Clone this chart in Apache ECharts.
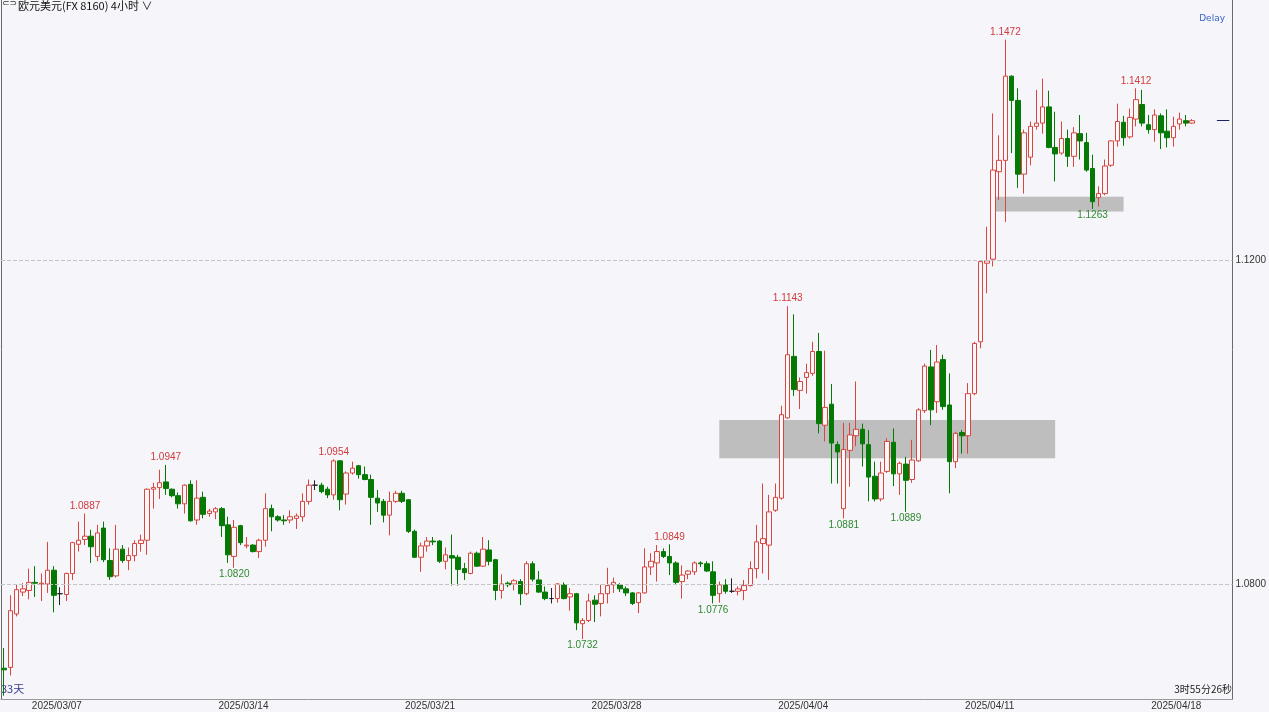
<!DOCTYPE html>
<html><head><meta charset="utf-8">
<script src="https://cdn.jsdelivr.net/npm/echarts/dist/echarts.min.js"></script>
<style>html,body{margin:0;padding:0;background:#f5f5fa;}#c{width:1269px;height:712px;}</style>
</head><body><div id="c"></div>
<script>
// EUR/USD 4h candles: open, close, low, high
const opens = [1.0696,1.0697,1.0763,1.0790,1.0792,1.0802,1.0800,1.0800,1.0817,1.0788,
1.0787,1.0813,1.0849,1.0855,1.0859,1.0834,1.0869,1.0829,1.0810,1.0843,
1.0829,1.0835,1.0850,1.0854,1.0917,1.0919,1.0926,1.0917,1.0909,1.0899,
1.0923,1.0879,1.0907,1.0887,1.0889,1.0893,1.0873,1.0834,1.0872,1.0847,
1.0848,1.0840,1.0854,1.0893,1.0883,1.0879,1.0879,1.0881,1.0883,1.0902,
1.0922,1.0922,1.0917,1.0910,1.0952,1.0911,1.0937,1.0946,1.0935,1.0929,
1.0906,1.0902,1.0885,1.0902,1.0912,1.0904,1.0865,1.0833,1.0847,1.0853,
1.0853,1.0828,1.0835,1.0833,1.0819,1.0813,1.0838,1.0822,1.0842,1.0830,
1.0792,1.0801,1.0800,1.0803,1.0788,1.0825,1.0805,1.0790,1.0782,1.0782,
1.0799,1.0784,1.0788,1.0751,1.0755,1.0780,1.0776,1.0788,1.0799,1.0799,
1.0794,1.0789,1.0777,1.0789,1.0821,1.0826,1.0840,1.0834,1.0826,1.0803,
1.0812,1.0815,1.0826,1.0825,1.0815,1.0788,1.0799,1.0791,1.0791,1.0792,
1.0798,1.0819,1.0850,1.0848,1.0891,1.0906,1.1005,1.1081,1.1039,1.1055,
1.1060,1.1087,1.0996,1.1022,1.0972,1.0893,1.0965,1.0983,1.0991,1.0972,
1.0933,1.0905,1.0939,1.0975,1.0936,1.0948,1.0929,1.0952,1.1014,1.1068,
1.1025,1.1077,1.1021,1.0951,1.0987,1.0983,1.1035,1.1099,1.1196,1.1201,
1.1309,1.1323,1.1427,1.1397,1.1306,1.1327,1.1365,1.1369,1.1389,1.1339,
1.1332,1.1350,1.1328,1.1356,1.1345,1.1313,1.1277,1.1282,1.1317,1.1347,
1.1370,1.1352,1.1374,1.1392,1.1367,1.1361,1.1378,1.1359,1.1351,1.1368,
1.1372,1.1369];
const closes = [1.0694,1.0767,1.0793,1.0794,1.0802,1.0801,1.0801,1.0817,1.0786,1.0788,
1.0813,1.0851,1.0854,1.0859,1.0846,1.0863,1.0830,1.0809,1.0843,1.0829,
1.0835,1.0850,1.0854,1.0917,1.0919,1.0925,1.0918,1.0909,1.0899,1.0922,
1.0878,1.0906,1.0886,1.0890,1.0893,1.0872,1.0836,1.0870,1.0851,1.0848,
1.0840,1.0854,1.0893,1.0883,1.0879,1.0878,1.0883,1.0884,1.0902,1.0922,
1.0922,1.0914,1.0910,1.0952,1.0904,1.0937,1.0943,1.0935,1.0929,1.0907,
1.0900,1.0885,1.0902,1.0912,1.0902,1.0865,1.0833,1.0847,1.0853,1.0852,
1.0828,1.0836,1.0832,1.0818,1.0814,1.0838,1.0822,1.0843,1.0828,1.0792,
1.0800,1.0799,1.0804,1.0788,1.0825,1.0806,1.0790,1.0782,1.0782,1.0800,
1.0782,1.0788,1.0752,1.0755,1.0779,1.0775,1.0788,1.0798,1.0802,1.0794,
1.0789,1.0776,1.0789,1.0821,1.0828,1.0840,1.0834,1.0826,1.0802,1.0811,
1.0816,1.0826,1.0825,1.0816,1.0786,1.0799,1.0791,1.0791,1.0794,1.0798,
1.0819,1.0852,1.0856,1.0889,1.0907,1.1009,1.1083,1.1040,1.1050,1.1061,
1.1087,1.0998,1.1018,1.0974,1.0963,1.0966,1.0984,1.0991,1.0973,1.0932,
1.0905,1.0937,1.0976,1.0936,1.0949,1.0928,1.0953,1.1015,1.1069,1.1015,
1.1074,1.1019,1.0951,1.0986,1.0983,1.1035,1.1097,1.1198,1.1199,1.1311,
1.1323,1.1427,1.1397,1.1306,1.1357,1.1365,1.1369,1.1389,1.1339,1.1331,
1.1350,1.1328,1.1357,1.1347,1.1311,1.1272,1.1282,1.1316,1.1347,1.1371,
1.1351,1.1376,1.1398,1.1369,1.1361,1.1379,1.1357,1.1351,1.1365,1.1374,
1.1369,1.1372];
const lows = [1.0662,1.0687,1.0760,1.0785,1.0781,1.0784,1.0779,1.0789,1.0765,1.0774,
1.0779,1.0805,1.0840,1.0848,1.0826,1.0828,1.0827,1.0805,1.0808,1.0826,
1.0817,1.0828,1.0840,1.0836,1.0893,1.0905,1.0910,1.0907,1.0893,1.0887,
1.0877,1.0873,1.0881,1.0883,1.0880,1.0858,1.0826,1.0820,1.0848,1.0844,
1.0839,1.0832,1.0846,1.0865,1.0877,1.0873,1.0875,1.0868,1.0877,1.0898,
1.0916,1.0912,1.0906,1.0904,1.0891,1.0898,1.0935,1.0930,1.0928,1.0873,
1.0889,1.0876,1.0860,1.0900,1.0900,1.0863,1.0832,1.0815,1.0840,1.0848,
1.0826,1.0818,1.0798,1.0798,1.0805,1.0812,1.0821,1.0821,1.0823,1.0780,
1.0782,1.0796,1.0792,1.0774,1.0786,1.0803,1.0789,1.0780,1.0776,1.0777,
1.0781,1.0767,1.0743,1.0732,1.0753,1.0753,1.0760,1.0776,1.0789,1.0790,
1.0785,1.0774,1.0764,1.0788,1.0811,1.0803,1.0832,1.0811,1.0799,1.0782,
1.0806,1.0811,1.0821,1.0815,1.0776,1.0777,1.0788,1.0789,1.0786,1.0780,
1.0797,1.0807,1.0813,1.0805,1.0889,1.0904,1.1004,1.1032,1.1016,1.1035,
1.1057,1.0986,1.0976,1.0924,1.0924,1.0881,1.0920,1.0970,1.0945,1.0902,
1.0902,1.0902,1.0937,1.0921,1.0910,1.0889,1.0925,1.0951,1.1011,1.0996,
1.1011,1.1015,1.0912,1.0943,1.0961,1.0961,1.1033,1.1091,1.1159,1.1192,
1.1274,1.1247,1.1332,1.1289,1.1282,1.1317,1.1361,1.1356,1.1338,1.1297,
1.1330,1.1315,1.1315,1.1324,1.1309,1.1263,1.1266,1.1280,1.1315,1.1340,
1.1341,1.1350,1.1365,1.1365,1.1356,1.1346,1.1337,1.1339,1.1340,1.1361,
1.1365,1.1368];
const highs = [1.0721,1.0786,1.0799,1.0801,1.0819,1.0822,1.0813,1.0852,1.0822,1.0796,
1.0814,1.0852,1.0877,1.0887,1.0867,1.0873,1.0877,1.0844,1.0873,1.0848,
1.0845,1.0854,1.0861,1.0918,1.0925,1.0941,1.0947,1.0918,1.0913,1.0923,
1.0928,1.0928,1.0914,1.0893,1.0895,1.0895,1.0883,1.0879,1.0873,1.0858,
1.0849,1.0856,1.0912,1.0898,1.0885,1.0885,1.0891,1.0887,1.0912,1.0929,
1.0928,1.0925,1.0920,1.0954,1.0953,1.0939,1.0951,1.0947,1.0945,1.0935,
1.0916,1.0905,1.0914,1.0915,1.0915,1.0905,1.0867,1.0851,1.0858,1.0858,
1.0854,1.0845,1.0861,1.0836,1.0826,1.0840,1.0840,1.0858,1.0854,1.0831,
1.0812,1.0803,1.0806,1.0806,1.0828,1.0828,1.0816,1.0797,1.0795,1.0801,
1.0802,1.0795,1.0789,1.0758,1.0788,1.0786,1.0799,1.0820,1.0808,1.0801,
1.0797,1.0790,1.0790,1.0844,1.0838,1.0848,1.0844,1.0849,1.0828,1.0823,
1.0817,1.0828,1.0828,1.0828,1.0828,1.0803,1.0806,1.0807,1.0797,1.0805,
1.0828,1.0873,1.0924,1.0910,1.0924,1.1020,1.1143,1.1133,1.1055,1.1072,
1.1099,1.1110,1.1088,1.1047,1.0976,1.0999,1.0999,1.1050,1.0998,1.0990,
1.0951,1.0951,1.0980,1.0992,1.0951,1.0957,1.0978,1.1017,1.1072,1.1089,
1.1095,1.1083,1.1060,1.0988,1.0990,1.1048,1.1099,1.1200,1.1241,1.1381,
1.1354,1.1472,1.1428,1.1412,1.1361,1.1371,1.1410,1.1424,1.1409,1.1383,
1.1371,1.1361,1.1364,1.1379,1.1357,1.1330,1.1291,1.1324,1.1348,1.1393,
1.1378,1.1387,1.1412,1.1410,1.1379,1.1386,1.1381,1.1386,1.1377,1.1382,
1.1379,1.1374];

const slotCount = 198;                       // category slots incl. empty right margin
const tickIdx  = [8, 38, 68, 98, 128, 158, 188];
const tickText = ['2025/03/07','2025/03/14','2025/03/21','2025/03/28','2025/04/04','2025/04/11','2025/04/18'];
const yLabelValues = [1.08, 1.12];
const highMarkIdx = [13, 26, 53, 107, 126, 161, 182];
const lowMarkIdx  = [37, 93, 114, 135, 145, 175];
const zone1 = {from: 115, to: 169, top: 1.10025, bottom: 1.09552};
const zone2 = {from: 159, to: 180, top: 1.12782, bottom: 1.12599};

const categories = [];
for (let i = 0; i < slotCount; i++) categories.push(String(i));
const ohlc = opens.map((o, i) => [o, closes[i], lows[i], highs[i]]);
const lastIdx = opens.length - 1;

const UP = '#d9453f', DOWN = '#047a04', BG = '#f5f5fa';

const markPts = [];
highMarkIdx.forEach(i => markPts.push({coord: [i, highs[i]], value: highs[i].toFixed(4),
  label: {position: 'top', distance: 2, color: '#d03a3a'}}));
lowMarkIdx.forEach(i => markPts.push({coord: [i, lows[i]], value: lows[i].toFixed(4),
  label: {position: 'bottom', distance: 1, color: '#2f8a2f'}}));

const chart = echarts.init(document.getElementById('c'));
chart.setOption({
  animation: false,
  backgroundColor: BG,
  textStyle: {fontFamily: 'Liberation Sans'},
  grid: {left: 1, right: 36, top: 0, bottom: 13},
  xAxis: {
    type: 'category', data: categories, boundaryGap: true,
    axisLine: {show: true, lineStyle: {color: '#9a9a9a'}},
    axisTick: {show: false},
    splitLine: {show: false},
    axisLabel: {
      interval: 0, fontSize: 10, color: '#333', margin: 2, padding: [0, 0, 0, 6],
      formatter: (v, i) => { const k = tickIdx.indexOf(i); return k >= 0 ? tickText[k] : ''; }
    }
  },
  yAxis: [{
    type: 'value', position: 'right', min: 1.0658, max: 1.1521,
    splitLine: {show: false},
    axisLine: {show: true, lineStyle: {color: '#6a6a6a'}},
    axisTick: {show: false},
    axisLabel: {
      fontSize: 10, color: '#333', margin: 3,
      formatter: v => yLabelValues.some(t => Math.abs(v - t) < 1e-6) ? v.toFixed(4) : ''
    }
  }, {
    type: 'value', position: 'left', min: 1.0658, max: 1.1521,
    splitLine: {show: false}, axisTick: {show: false}, axisLabel: {show: false},
    axisLine: {show: true, lineStyle: {color: '#6a6a6a'}}
  }],
  graphic: [
    {type: 'text', left: 2, top: -1, style: {text: '⊂⊃', fontSize: 9, fill: '#333', fontFamily: 'DejaVu Sans'}},
    {type: 'text', left: 18, top: 0, style: {text: '欧元美元(FX 8160) 4小时 ∨', fontSize: 11, fill: '#111', fontFamily: 'Noto Sans CJK SC'}},
    {type: 'text', right: 44, top: 14, style: {text: 'Delay', fontSize: 9, fill: '#3a62c8', fontFamily: 'DejaVu Sans'}},
    {type: 'text', left: 1, top: 683, style: {text: '33天', fontSize: 11, fill: '#3c3c8c', fontFamily: 'Noto Sans CJK SC'}},
    {type: 'text', right: 37, top: 684, style: {text: '3时55分26秒', fontSize: 10, fill: '#222', fontFamily: 'Noto Sans CJK SC'}}
  ],
  series: [{
    type: 'candlestick',
    data: ohlc,
    barWidth: 5,
    itemStyle: {
      color: '#f8f8fb', color0: DOWN,
      borderColor: UP, borderColor0: DOWN, borderColorDoji: '#222',
      borderWidth: 1
    },
    markPoint: {
      symbol: 'circle', symbolSize: 1, silent: true,
      itemStyle: {color: 'rgba(0,0,0,0)'},
      label: {show: true, fontSize: 10, fontFamily: 'Liberation Sans', formatter: p => p.value},
      data: markPts
    },
    markArea: {
      silent: true,
      itemStyle: {color: 'rgba(160,160,160,0.65)'},
      data: [
        [{xAxis: zone1.from, yAxis: zone1.top}, {xAxis: zone1.to, yAxis: zone1.bottom}],
        [{xAxis: zone2.from, yAxis: zone2.top}, {xAxis: zone2.to, yAxis: zone2.bottom}]
      ]
    },
    markLine: {
      silent: true, symbol: 'none', label: {show: false},
      data: [
        {yAxis: yLabelValues[0], lineStyle: {type: 'dashed', color: '#c4c4c4', width: 1}},
        {yAxis: yLabelValues[1], lineStyle: {type: 'dashed', color: '#c4c4c4', width: 1}},
        [{coord: [String(lastIdx + 4), closes[lastIdx]], lineStyle: {type: 'solid', color: '#1c2360', width: 1}},
         {coord: [String(slotCount - 1), closes[lastIdx]]}]
      ]
    }
  }]
});
</script>
</body></html>
